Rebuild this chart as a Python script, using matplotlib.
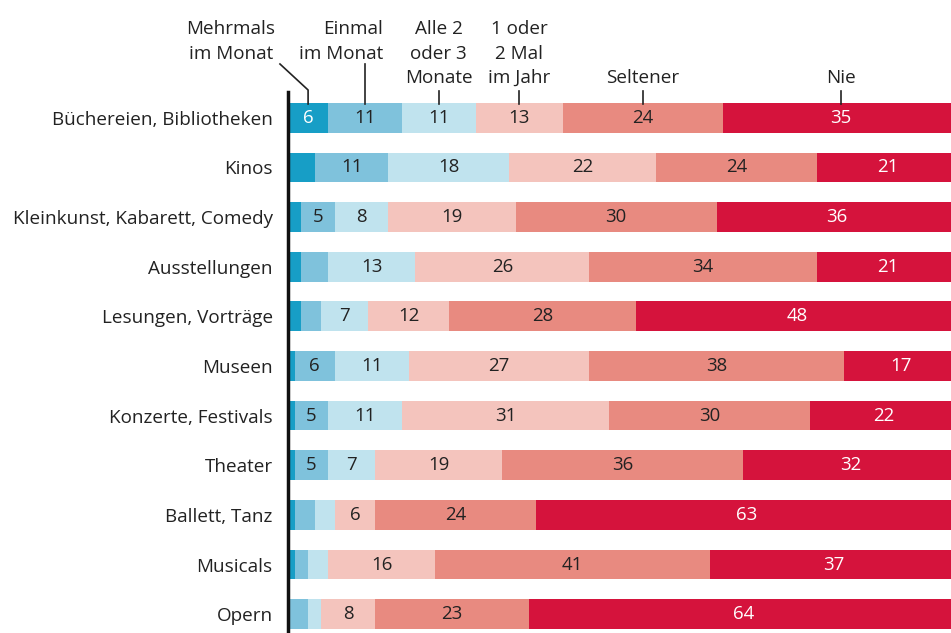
import matplotlib

matplotlib.use("Agg")
import matplotlib.pyplot as plt
from matplotlib.lines import Line2D
from matplotlib.transforms import blended_transform_factory

plt.rcParams["font.family"] = ["Open Sans", "DejaVu Sans"]

categories = [
    "Büchereien, Bibliotheken",
    "Kinos",
    "Kleinkunst, Kabarett, Comedy",
    "Ausstellungen",
    "Lesungen, Vorträge",
    "Museen",
    "Konzerte, Festivals",
    "Theater",
    "Ballett, Tanz",
    "Musicals",
    "Opern",
]
mehrmals = [6, 4, 2, 2, 2, 1, 1, 1, 1, 1, 0]
einmal = [11, 11, 5, 4, 3, 6, 5, 5, 3, 2, 3]
alle_2_3 = [11, 18, 8, 13, 7, 11, 11, 7, 3, 3, 2]
im_jahr = [13, 22, 19, 26, 12, 27, 31, 19, 6, 16, 8]
seltener = [24, 24, 30, 34, 28, 38, 30, 36, 24, 41, 23]
nie = [35, 21, 36, 21, 48, 17, 22, 32, 63, 37, 64]

series = [mehrmals, einmal, alle_2_3, im_jahr, seltener, nie]
series_names = [
    "Mehrmals\nim Monat",
    "Einmal\nim Monat",
    "Alle 2\noder 3\nMonate",
    "1 oder\n2 Mal\nim Jahr",
    "Seltener",
    "Nie",
]
colors = ["#179ec6", "#7fc2dc", "#c0e3ee", "#f4c4bd", "#e88a80", "#d5133c"]
text_colors = ["white", "#222222", "#222222", "#222222", "#222222", "white"]

W, H = 951, 633
fig = plt.figure(figsize=(W / 100, H / 100), dpi=100)
ax = fig.add_axes([288 / W, 0, 1 - 288 / W, 1 - 92 / H])

ypos = list(range(len(categories)))
left = [0] * len(categories)
for vals, col, tcol in zip(series, colors, text_colors):
    ax.barh(ypos, vals, left=left, height=0.6, color=col, linewidth=0)
    for y, v, l in zip(ypos, vals, left):
        if v >= 5:
            ax.text(l + v / 2, y, str(v), ha="center", va="center",
                    fontsize=13.4, color=tcol)
    left = [l + v for l, v in zip(left, vals)]

ax.set_xlim(0, 99)
ax.set_ylim(len(categories) - 0.62, -0.52)
ax.set_yticks(ypos)
ax.set_yticklabels(categories, fontsize=13.6, color="#222222")
ax.tick_params(axis="y", length=0, pad=11)
ax.set_xticks([])
for s in ["top", "right", "bottom"]:
    ax.spines[s].set_visible(False)
ax.spines["left"].set_linewidth(2.5)
ax.spines["left"].set_color("#111111")

# column headers with leader lines to the first row
tr = blended_transform_factory(ax.transData, fig.transFigure)
px = 1 / H
first = [s[0] for s in series]
centers = []
acc = 0
for v in first:
    centers.append(acc + v / 2)
    acc += v

bar_top = 1 - 104 * px
header_x = [-8.5, 14.2, centers[2], centers[3], centers[4], centers[5]]
header_top = [1 - 20 * px] * 4 + [1 - 69 * px] * 2
header_ha = ["center", "right", "center", "center", "center", "center"]
for name, hx, hy, ha in zip(series_names, header_x, header_top, header_ha):
    ax.text(hx, hy, name, transform=tr, ha=ha, va="top", fontsize=13.6,
            color="#222222", multialignment=ha, linespacing=1.47)

line_kw = dict(color="#222222", linewidth=1.2, transform=tr, clip_on=False)
# Mehrmals: diagonal then vertical
ax.add_line(Line2D([-1.2, centers[0], centers[0]],
                   [1 - 64 * px, 1 - 90 * px, bar_top], **line_kw))
ax.add_line(Line2D([centers[1], centers[1]], [1 - 64 * px, bar_top], **line_kw))
for c in centers[2:]:
    ax.add_line(Line2D([c, c], [1 - 91 * px, bar_top], **line_kw))

fig.savefig("out.png", dpi=100)
